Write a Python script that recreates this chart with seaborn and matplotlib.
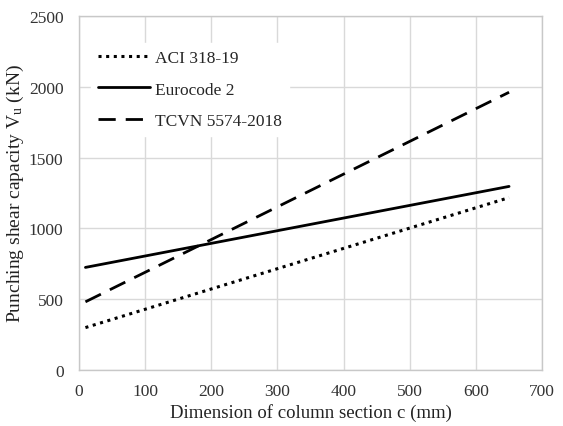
import pandas as pd
import matplotlib
matplotlib.use('Agg')
import matplotlib.pyplot as plt
import seaborn as sns

# data
c_mm = [10, 650]
aci = [300, 1218]
eurocode = [725, 1297]
tcvn = [482, 1962]

series = [
    ('ACI 318-19', aci, (0, (1, 1.5)), 2.2),
    ('Eurocode 2', eurocode, '-', 2.0),
    ('TCVN 5574-2018', tcvn, (0, (6.2, 3.6)), 2.0),
]

sns.set_theme(style='whitegrid')
plt.rcParams['font.family'] = ['Liberation Serif', 'DejaVu Serif']
plt.rcParams['mathtext.fontset'] = 'custom'
plt.rcParams['mathtext.rm'] = 'Liberation Serif'
plt.rcParams['mathtext.it'] = 'Liberation Serif:italic'

fig = plt.figure(figsize=(5.63, 4.27), dpi=100)
ax = fig.add_axes([0.140, 0.131, 0.823, 0.829])

for name, vals, ls, lw in series:
    df = pd.DataFrame({'c': c_mm, 'V': vals})
    sns.lineplot(data=df, x='c', y='V', ax=ax, color='black', linestyle=ls,
                 linewidth=lw, label=name)

ax.set_xlim(0, 700)
ax.set_ylim(0, 2500)
ax.set_xticks(range(0, 701, 100))
ax.set_yticks(range(0, 2501, 500))
ax.grid(True, color='#d9d9d9', linewidth=1.0)
for s in ax.spines.values():
    s.set_color('#c8c8c8')
    s.set_linewidth(1.0)
ax.tick_params(axis='both', length=0, labelsize=12.5, colors='#333333')
ax.tick_params(axis='y', pad=11)
ax.tick_params(axis='x', pad=9)
ax.set_xlabel('Dimension of column section c (mm)', fontsize=13.5, color='#222222', labelpad=3)
ax.set_ylabel(r'Punching shear capacity V$_{\mathrm{u}}$ (kN)', fontsize=14, color='#222222', labelpad=2)

leg = ax.legend(loc='upper left', frameon=True, fontsize=12.5, handlelength=3.0,
                handletextpad=0.25, labelspacing=0.9, borderaxespad=0.0,
                bbox_to_anchor=(0.027, 0.925))
leg.get_frame().set_facecolor('white')
leg.get_frame().set_edgecolor('white')
leg.get_frame().set_alpha(1.0)

fig.savefig('out.png', dpi=100, facecolor='white')
